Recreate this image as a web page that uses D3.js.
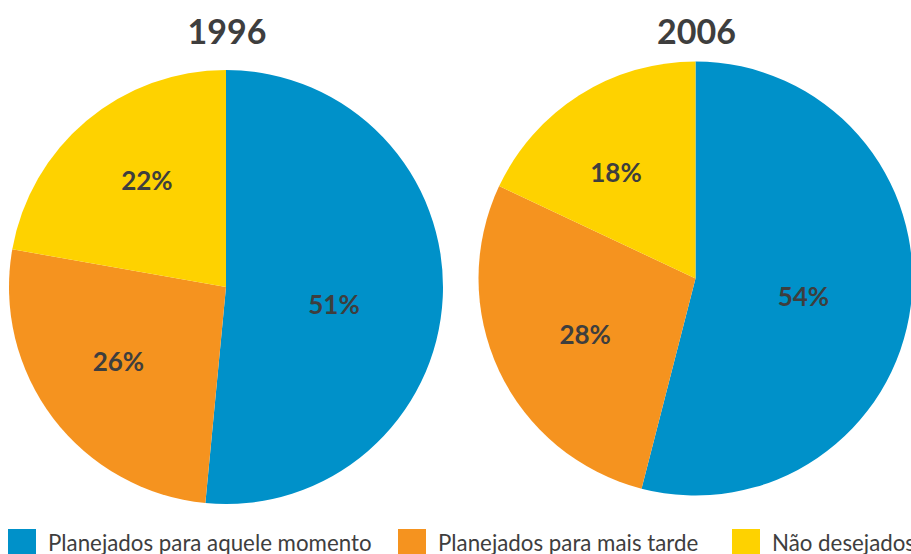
<!DOCTYPE html>
<html>
<head>
<meta charset="utf-8">
<script src="https://cdn.jsdelivr.net/npm/d3@7"></script>
<style>
  html, body { margin: 0; padding: 0; background: #ffffff; overflow: hidden; }
  svg { display: block; }
</style>
</head>
<body>
<svg id="chart" width="911" height="554"></svg>
<script>
// ---- Data ----
const categories = ["Planejados para aquele momento", "Planejados para mais tarde", "Não desejados"];
const years = ["1996", "2006"];
const values1996 = [51, 26, 22];
const values2006 = [54, 28, 18];

// ---- Styles / layout ----
const colors = ["#0091c9", "#f5931f", "#fed200"];
const textColor = "#3e3e3e";
// label placement per pie: radius fraction and angle nudge (degrees)
const labelRadius = [[0.504, 0.603, 0.611], [0.504, 0.571, 0.609]];
const labelAngleNudge = [[6.5, 2.6, 3.4], [2.2, -1.9, -4.6]];

const svg = d3.select("#chart");

const radius = 217;
const centers = [
  { x: 226, y: 287 },
  { x: 695.5, y: 278.5 }
];
const seriesList = [values1996, values2006];

const pie = d3.pie().sort(null).value(d => d);
const arc = d3.arc().innerRadius(0).outerRadius(radius);

seriesList.forEach((vals, i) => {
  const g = svg.append("g")
    .attr("transform", `translate(${centers[i].x},${centers[i].y})`);
  const arcs = pie(vals);
  g.selectAll("path")
    .data(arcs)
    .enter().append("path")
    .attr("d", arc)
    .attr("fill", (d, j) => colors[j]);

  g.selectAll("text.lbl")
    .data(arcs)
    .enter().append("text")
    .attr("class", "lbl")
    .attr("transform", (d, j) => {
      const r = radius * labelRadius[i][j];
      const a = (d.startAngle + d.endAngle) / 2 + labelAngleNudge[i][j] * Math.PI / 180;
      return `translate(${r * Math.sin(a)},${-r * Math.cos(a)})`;
    })
    .attr("text-anchor", "middle")
    .attr("dy", "0.36em")
    .attr("font-family", "Lato, 'Open Sans', sans-serif")
    .attr("font-weight", 700)
    .attr("font-size", 26)
    .attr("fill", textColor)
    .text(d => d.data + "%");

  svg.append("text")
    .attr("x", centers[i].x + 1)
    .attr("y", 44)
    .attr("text-anchor", "middle")
    .attr("font-family", "Lato, 'Open Sans', sans-serif")
    .attr("font-weight", 700)
    .attr("font-size", 34)
    .attr("fill", textColor)
    .text(years[i]);
});

// ---- Legend ----
const legendX = [8, 398, 732];
const legend = svg.append("g");
categories.forEach((c, j) => {
  legend.append("rect")
    .attr("x", legendX[j])
    .attr("y", 529)
    .attr("width", 28)
    .attr("height", 28)
    .attr("fill", colors[j]);
  legend.append("text")
    .attr("x", legendX[j] + 40)
    .attr("y", 551)
    .attr("font-family", "Lato, 'Open Sans', sans-serif")
    .attr("font-weight", 400)
    .attr("font-size", 22.3)
    .attr("fill", textColor)
    .text(c);
});
</script>
</body>
</html>
